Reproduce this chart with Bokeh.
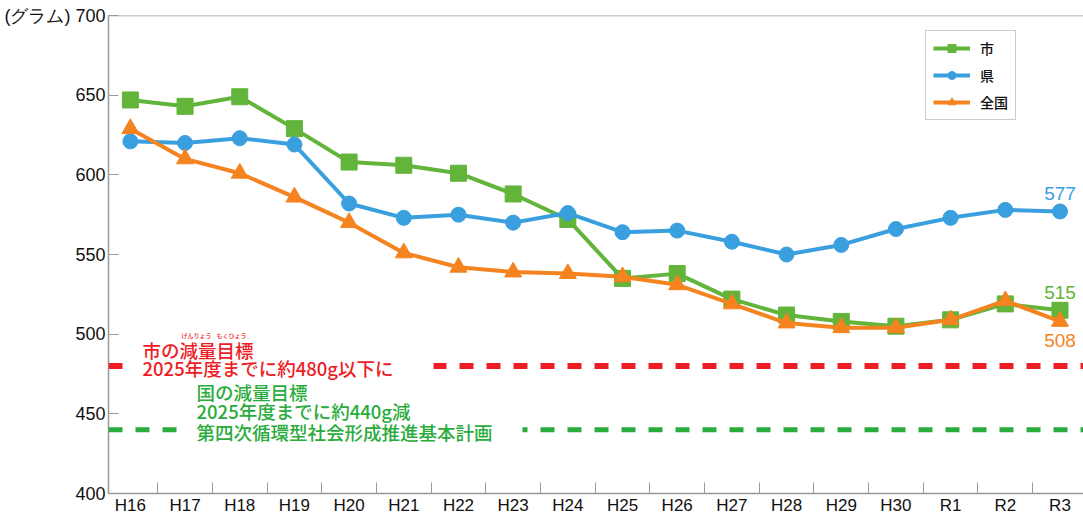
from bokeh.plotting import figure
from bokeh.models import Range1d, FixedTicker, Legend, LegendItem, Label, Span, ColumnDataSource
from bokeh.core.properties import value
from bokeh.embed import file_html
from bokeh.resources import INLINE

# ---- data ----
years = ["H16", "H17", "H18", "H19", "H20", "H21", "H22", "H23", "H24",
         "H25", "H26", "H27", "H28", "H29", "H30", "R1", "R2", "R3"]
city = [647, 643, 649, 629, 608, 606, 601, 588, 572, 535, 538, 522, 512, 508, 505, 509, 519, 515]
pref = [621, 620, 623, 619, 582, 573, 575, 570, 576, 564, 565, 558, 550, 556, 566, 573, 578, 577]
nation = [629, 610, 601, 586, 570, 551, 542, 539, 538, 536, 531, 519, 507, 504, 504, 509, 521, 508]
series_names = ["市", "県", "全国"]
y_ticks = [400, 450, 500, 550, 600, 650, 700]
city_target = 480
nation_target = 440
city_target_text = ["市の減量目標", "2025年度までに約480g以下に"]
furigana = ["げんりょう", "もくひょう"]
nation_target_text = ["国の減量目標", "2025年度までに約440g減", "第四次循環型社会形成推進基本計画"]
unit_text = "(グラム)"

GREEN = "#62b43a"
BLUE = "#3a9fdf"
ORANGE = "#f5831f"
RED = "#ee1c25"
DGREEN = "#2aac3c"
GRAY = "#9a9a9a"
JP = "'Noto Sans CJK JP Medium', 'Noto Sans CJK JP'"
LAT = "Liberation Sans"

xs = list(range(len(years)))

p = figure(width=1083, height=517,
           x_range=Range1d(-0.4, len(years) - 0.57),
           y_range=Range1d(y_ticks[0], y_ticks[-1]),
           output_backend="svg", toolbar_location=None,
           min_border_left=108, min_border_top=15, min_border_right=0, min_border_bottom=0)
p.xgrid.visible = False
p.ygrid.visible = False
p.outline_line_color = None

# x axis
xa = p.xaxis[0]
xa.ticker = FixedTicker(ticks=xs, minor_ticks=[i + 0.5 for i in xs])
xa.major_label_overrides = {i: y for i, y in zip(xs, years)}
xa.major_tick_in = 0
xa.major_tick_out = 0
xa.minor_tick_in = 11
xa.minor_tick_out = 0
xa.minor_tick_line_color = GRAY
xa.axis_line_color = GRAY
xa.axis_line_width = 1.5
xa.major_label_text_font = LAT
xa.major_label_text_font_size = "17px"
xa.major_label_text_color = "#111"
xa.major_label_standoff = 2

ya = p.yaxis[0]
ya.ticker = FixedTicker(ticks=y_ticks)
ya.major_label_overrides = {y_ticks[-1]: unit_text + " " + str(y_ticks[-1])}
ya.major_tick_in = 10
ya.major_tick_out = 0
ya.minor_tick_line_color = None
ya.major_tick_line_color = GRAY
ya.axis_line_color = GRAY
ya.axis_line_width = 1.5
ya.major_label_text_font = LAT
ya.major_label_text_font_size = "18px"
ya.major_label_text_color = "#111"
ya.major_label_standoff = 3

# top frame line
p.add_layout(Span(location=y_ticks[-1], dimension="width", line_color=GRAY, line_width=1.5))

# target lines
p.add_layout(Span(location=city_target, dimension="width", line_color=RED,
                  line_width=6, line_dash="14 13"))
p.add_layout(Span(location=nation_target, dimension="width", line_color=DGREEN,
                  line_width=5, line_dash="14 13"))

# series
items = []
for name, vals, col, marker, size in [
        (series_names[0], city, GREEN, "square", 16),
        (series_names[1], pref, BLUE, "circle", 15),
        (series_names[2], nation, ORANGE, "triangle", 17)]:
    src = ColumnDataSource(dict(x=xs, y=vals))
    ln = p.line("x", "y", source=src, line_color=col, line_width=4)
    sc = p.scatter("x", "y", source=src, marker=marker, size=size,
                   fill_color=col, line_color=col)
    items.append(LegendItem(label=name, renderers=[ln, sc]))

legend = Legend(items=items, location=(817, 373), orientation="vertical",
                label_text_font=JP, label_text_font_size="14px",
                label_text_font_style="bold", label_text_color="#111",
                glyph_width=37, glyph_height=20, label_height=20,
                label_standoff=10, spacing=7, padding=7, margin=0,
                border_line_color=GRAY, border_line_width=1.2,
                background_fill_color="white", background_fill_alpha=1)
p.add_layout(legend, "center")

# end labels
last = len(years) - 1
end_src = ColumnDataSource(dict(
    x=[last, last, last],
    y=[city[-1], pref[-1], nation[-1]],
    t=[str(city[-1]), str(pref[-1]), str(nation[-1])],
    c=[GREEN, BLUE, ORANGE],
    dy=[-18, -18, 19]))
p.text("x", "y", text="t", source=end_src, text_color="c", y_offset="dy",
       text_align="center", text_baseline="middle",
       text_font=value(LAT), text_font_size="19px")

# target labels
def lab(txt, x, y, color, size="18.5px", **kw):
    p.add_layout(Label(x=x, y=y, x_units="screen", y_units="data", text=txt,
                       text_color=color, text_font=JP, text_font_size=size,
                       text_font_style="bold", text_baseline="middle",
                       text_align="left", **kw))

# labels that mask the dashed lines first
lab(city_target_text[1], 15, city_target - 1, RED,
    background_fill_color="white",
    padding=dict(left=19, right=40, top=1, bottom=1))
lab(nation_target_text[2], 70, nation_target - 1.5, DGREEN,
    background_fill_color="white",
    padding=dict(left=18, right=30, top=1, bottom=1))
lab(city_target_text[0], 34, 490, RED)
lab(furigana[0], 73, 499, RED, size="6px")
lab(furigana[1], 108, 499, RED, size="6px")
lab(nation_target_text[0], 88, 464, DGREEN)
lab(nation_target_text[1], 88, 451.5, DGREEN)

open("out.html", "w").write(file_html(p, INLINE))
